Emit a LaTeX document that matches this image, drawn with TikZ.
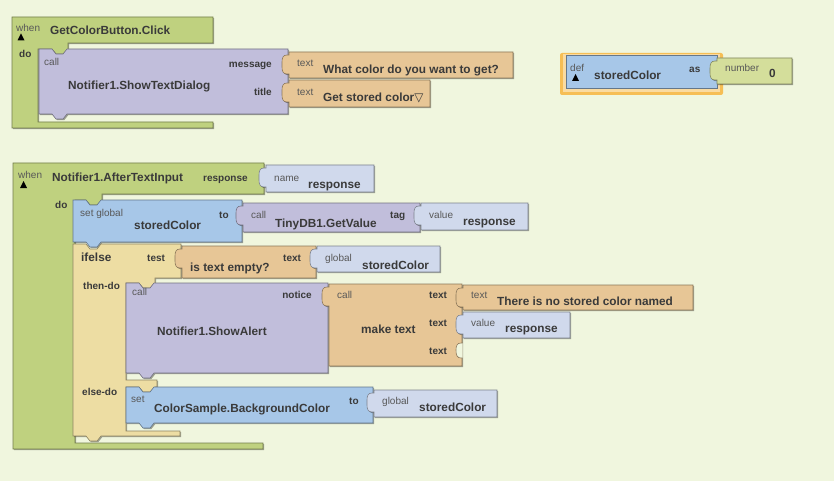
\documentclass[tikz,border=0pt]{standalone}
\usepackage{fontspec}
\setmainfont{Liberation Sans}
\newfontfamily\dvfont{DejaVu Sans}
\usetikzlibrary{shadows}
\definecolor{bg}{HTML}{F0F6DE}
\definecolor{cgreen}{HTML}{BFD17F}
\definecolor{cpurple}{HTML}{C1BEDB}
\definecolor{corange}{HTML}{E7C696}
\definecolor{cblue}{HTML}{A7C7E8}
\definecolor{clight}{HTML}{D0D9EC}
\definecolor{cyellow}{HTML}{EDDDA3}
\definecolor{cnum}{HTML}{D4DE9B}
\definecolor{cgold}{HTML}{F6BE55}
\definecolor{txt}{HTML}{3A3A3A}
\definecolor{txtl}{HTML}{585858}
\tikzset{
  blk/.style={fill=#1, draw=#1!60!black, line width=0.6pt,
    drop shadow={shadow xshift=1.2pt, shadow yshift=-1.2pt, fill=black, opacity=0.35}},
  lb/.style={font=\bfseries\fontsize{11.8}{12}\selectfont, text=txt, anchor=base west, inner sep=0pt},
  sb/.style={font=\bfseries\fontsize{10}{10}\selectfont, text=txt, anchor=base west, inner sep=0pt},
  sbr/.style={sb, anchor=base east},
  sl/.style={font=\fontsize{10}{10}\selectfont, text=txtl, anchor=base west, inner sep=0pt},
}
% statement block with top notch and bottom tab
\newcommand\stmtblk[5]{\path[blk=#5] (#1,#2) -- ++(13,0) -- ++(4,5) -- ++(7,0) -- ++(4,-5) -- (#3,#2) -- (#3,#4) -- ({#1+28},#4) -- ++(-4,5) -- ++(-7,0) -- ++(-4,-5) -- (#1,#4) -- cycle;}
% value block with left plug
\newcommand\valblk[5]{\path[blk=#5] (#1,#2) -- (#3,#2) -- (#3,#4) -- (#1,#4) -- ({#1},{#2+22}) -- ({#1-2},{#2+22}) .. controls ({#1-6},{#2+22}) and ({#1-7},{#2+19}) .. ({#1-7},{#2+15}) -- ({#1-7},{#2+10}) .. controls ({#1-7},{#2+6}) and ({#1-6},{#2+3}) .. ({#1-2},{#2+3}) -- ({#1},{#2+3}) -- cycle;}
\newcommand\tri[2]{\fill[black] ({#1-3.5},{#2+3.5}) -- ({#1+3.5},{#2+3.5}) -- (#1,{#2-3.5}) -- cycle;}
\begin{document}
\begin{tikzpicture}[x=1pt,y=-1pt]
\fill[bg] (0,0) rectangle (834,481);
\useasboundingbox (0,0) rectangle (834,481);

% ---------------- Block 1 ----------------
\path[blk=cgreen] (12,17) -- (213,17) -- (213,43) -- (68,43) -- (68,49) -- (63,54) -- (56,54) -- (52,49) -- (38,49) -- (38,122) -- (213,122) -- (213,128) -- (12,128) -- cycle;
\tri{21}{37}
\node[sl] (w1) at (16,32) {when};
\node[lb] (ev1) at (50,35) {GetColorButton.Click};
\node[sb] (do1) at (19,57.5) {do};
\stmtblk{39}{49}{288}{114}{cpurple}
\node[sl] (c1) at (44,65.5) {call};
\node[lb] (sd) at (68,90) {Notifier1.ShowTextDialog};
\node[sbr] (msg) at (272,67.5) {message};
\node[sbr] (ttl) at (272,95.5) {title};
\valblk{289}{52}{513}{78}{corange}
\node[sl] (tx1) at (297,66.5) {text};
\node[lb] (q1) at (323,74) {What color do you want to get?};
\valblk{289}{80}{430}{107}{corange}
\node[sl] (tx2) at (297,95.5) {text};
\node[lb] (q2) at (323,102) {Get stored color{\dvfont ▽}};

% ---------------- def block ----------------
\fill[cgold, rounded corners=2pt] (560,53) rectangle (723,95);
\fill[cgold!55!white] (563,54.5) rectangle (720,92);
\path[blk=cblue] (566,55) rectangle (717,88);
\node[sl] (df) at (570,71.5) {def};
\tri{575.5}{77.5}
\node[lb] (sc0) at (594,80) {storedColor};
\node[sb] (as) at (689,72.5) {as};
\valblk{717}{58}{792}{84}{cnum}
\node[sl] (nm) at (725,71.5) {number};
\node[lb] (zero) at (769,78) {0};

% ---------------- Block 2 ----------------
\path[blk=cgreen] (13,163) -- (264,163) -- (264,194) -- (102,194) -- (102,200) -- (97,205) -- (90,205) -- (86,200) -- (75,200) -- (75,443) -- (263,443) -- (263,449) -- (13,449) -- cycle;
\tri{23.5}{184.5}
\node[sl] (w2) at (18,178.5) {when};
\node[lb] (ev2) at (52,181) {Notifier1.AfterTextInput};
\node[sb] (resp) at (203,181.5) {response};
\valblk{266}{165}{374}{192}{clight}
\node[sl] (nme) at (274,181) {name};
\node[lb] (rn) at (308,188) {response};
\node[sb] (do2) at (55,208.5) {do};

% set global
\stmtblk{73}{200}{242}{242}{cblue}
\node[sl] (sg) at (80,216.5) {set global};
\node[lb] (sc1) at (134,229) {storedColor};
\node[sb] (to1) at (219,218.5) {to};
\valblk{243}{203}{420}{232}{cpurple}
\node[sl] (c2) at (251,218.5) {call};
\node[lb] (gv) at (275,227) {TinyDB1.GetValue};
\node[sb] (tag) at (390,218.5) {tag};
\valblk{421}{203}{528}{230}{clight}
\node[sl] (v1) at (429,218.5) {value};
\node[lb] (r1) at (463,225) {response};

% ifelse
\path[blk=cyellow] (73,244) -- (86,244) -- (90,249) -- (97,249) -- (101,244) -- (181,244) -- (181,278) -- (155,278) -- (155,283) -- (150,288) -- (143,288) -- (139,283) -- (126,283) -- (126,380) -- (157,380) -- (157,387) -- (155,387) -- (150,392) -- (143,392) -- (139,387) -- (126,387) -- (126,431) -- (180,431) -- (180,436) -- (101,436) -- (97,441) -- (90,441) -- (86,436) -- (73,436) -- cycle;
\node[lb] (ife) at (81,261) {ifelse};
\node[sb] (tst) at (147,261.5) {test};
\valblk{182}{246}{316}{278}{corange}
\node[lb] (ite) at (190,271) {is text empty?};
\node[sb] (tx3) at (283,261.5) {text};
\valblk{317}{246}{440}{272}{clight}
\node[sl] (g1) at (325,261.5) {global};
\node[lb] (sc2) at (362,269) {storedColor};
\node[sb] (thn) at (83,289.5) {then-do};
\node[sb] (els) at (82,395.5) {else-do};

% ShowAlert
\stmtblk{126}{283}{328}{373}{cpurple}
\node[sl] (c3) at (132,295.5) {call};
\node[lb] (sa) at (157,335) {Notifier1.ShowAlert};
\node[sbr] (ntc) at (312,298.5) {notice};
\valblk{329}{284}{462}{366}{corange}
\path[fill=bg, draw=corange!60!black, line width=0.6pt] (462.5,343) -- (461,343) .. controls (457,343) and (456,346) .. (456,350) .. controls (456,355) and (457,358) .. (461,358) -- (462.5,358);
\node[sl] (c4) at (337,298.5) {call};
\node[lb] (mt) at (361,333) {make text};
\node[sb] (t4) at (429,298.5) {text};
\node[sb] (t5) at (429,326.5) {text};
\node[sb] (t6) at (429,354.5) {text};
\valblk{463}{285}{693}{310}{corange}
\node[sl] (t7) at (471,298.5) {text};
\node[lb] (nosc) at (497,305) {There is no stored color named};
\valblk{463}{312}{570}{338}{clight}
\node[sl] (v2) at (471,326.5) {value};
\node[lb] (r2) at (505,332) {response};

% set ColorSample
\stmtblk{126}{387}{373}{423}{cblue}
\node[sl] (st) at (131,402.5) {set};
\node[lb] (cs) at (154,412) {ColorSample.BackgroundColor};
\node[sb] (to2) at (349,404.5) {to};
\valblk{374}{390}{497}{417}{clight}
\node[sl] (g2) at (382,404.5) {global};
\node[lb] (sc3) at (419,411) {storedColor};
\end{tikzpicture}
\end{document}
